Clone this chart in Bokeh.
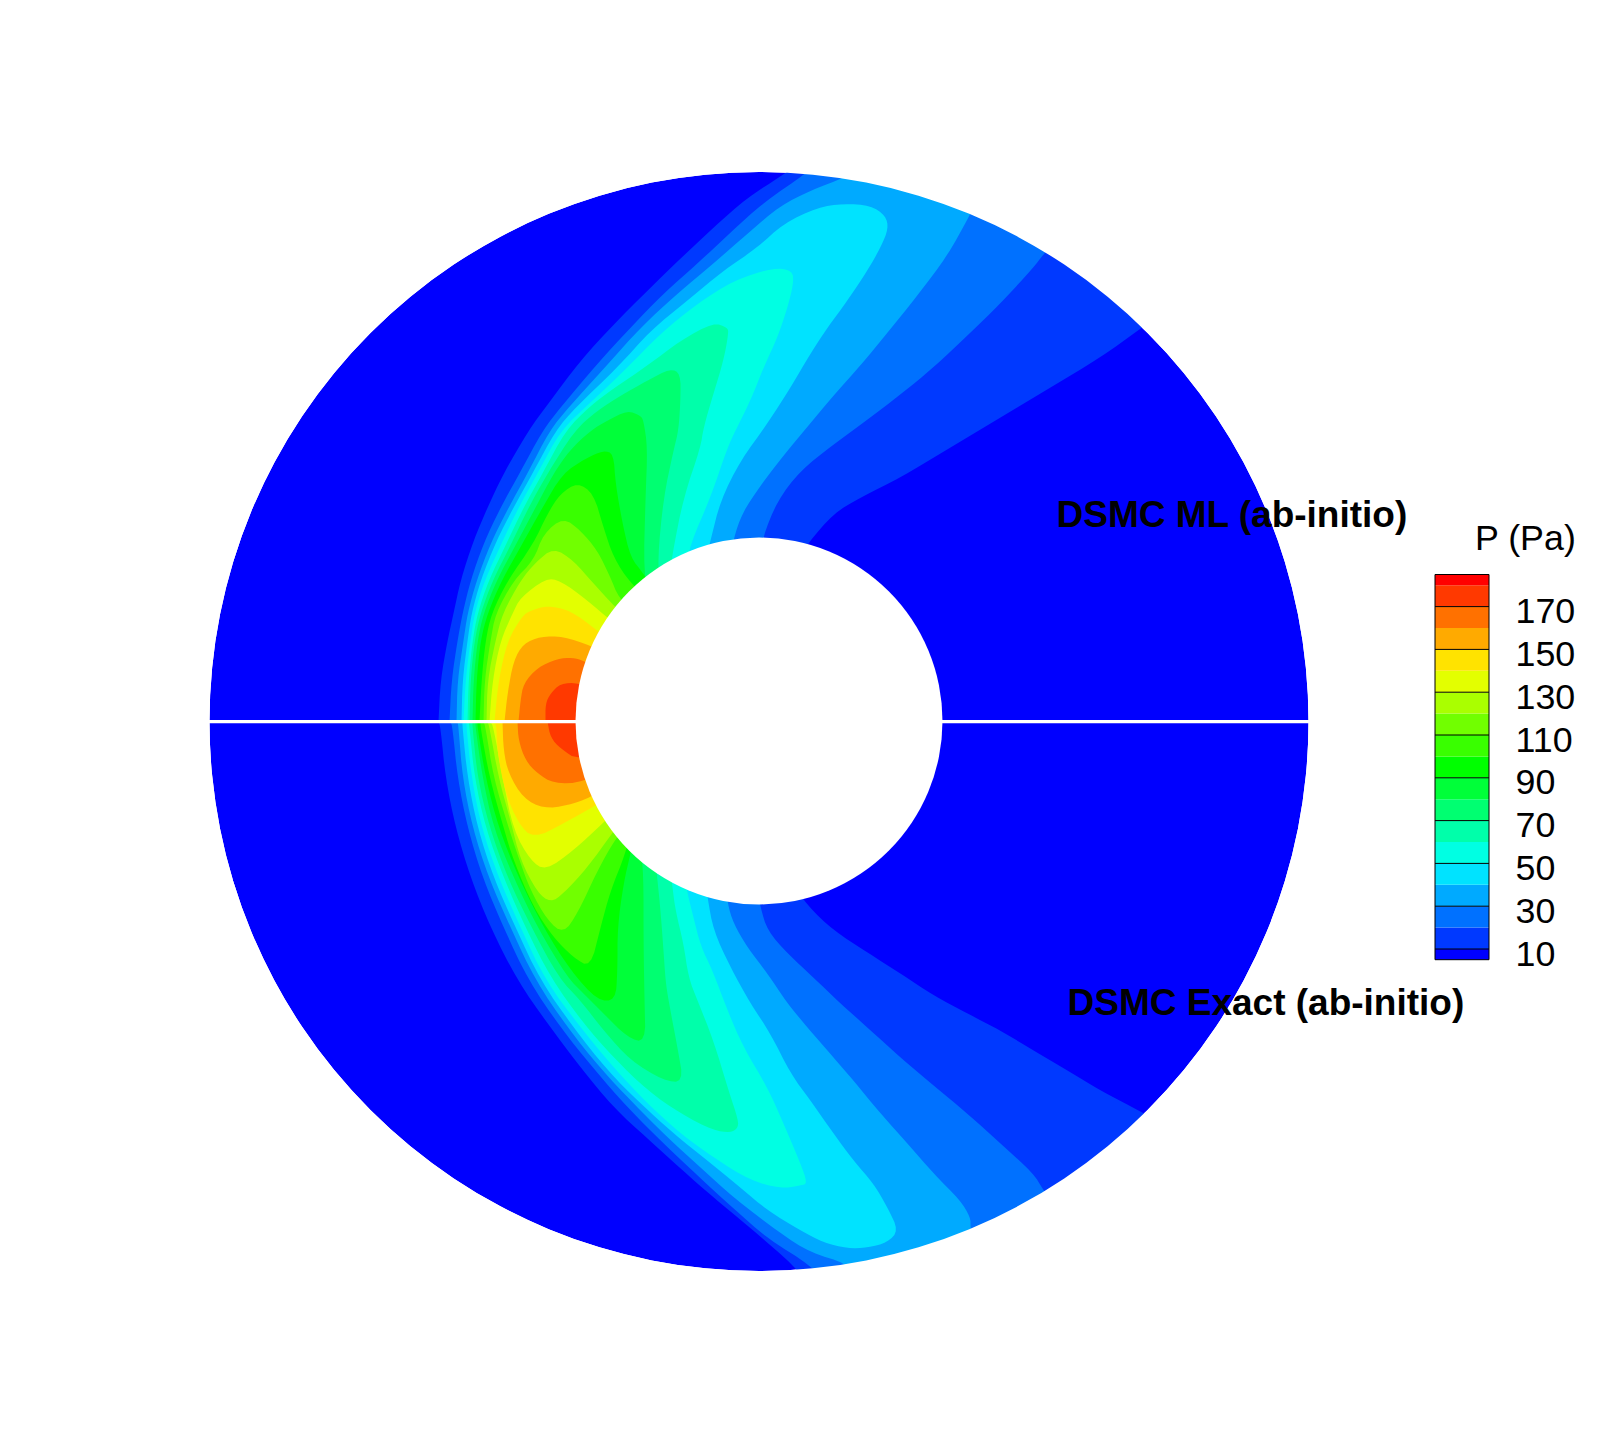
from bokeh.embed import file_html
from bokeh.models import Range1d
from bokeh.plotting import figure
from bokeh.resources import INLINE
from bokeh.core.properties import value
import numpy as np

# ---- colour scale ----
LEVELS = [10, 20, 30, 40, 50, 60, 70, 80, 90, 100, 110, 120, 130, 140, 150, 160, 170, 180]
BAND_COLORS = ["#0000FF", "#0039FF", "#0071FF", "#00AAFF", "#00E3FF", "#00FFE3", "#00FFAA", "#00FF71",
               "#00FF39", "#00FF00", "#39FF00", "#71FF00", "#AAFF00", "#E3FF00", "#FFE300", "#FFAA00",
               "#FF7100", "#FF3900", "#FF0000"]
TICKS = [10, 30, 50, 70, 90, 110, 130, 150, 170]
P_MIN, P_MAX = 5, 185

# ---- geometry of the annulus ----
CENTER_X, CENTER_Y = 758.5, 721
R_OUT, R_IN = 549.5, 183.5

# ---- iso-pressure contours: upper half (DSMC ML) ----
UP_10 = [(438,721),(440,680),(447,640),(453,613),(460,580),(473,540),(487,507),(503,473),(528,430),(547,404),(580,360),(613,324),(647,290),(680,258),(713,227),(747,197),(780,176),(795,165),(1000,130),(1180,299),(1140,328),(1100,357),(1050,387),(1000,417),(950,447),(900,477),(860,497),(833,513),(808,542),(790,570)]
UP_20 = [(449,721),(451,680),(457,640),(462,613),(470,580),(483,543),(500,507),(519,473),(542,430),(560,407),(597,363),(630,327),(663,293),(697,263),(730,232),(763,202),(807,172),(815,160),(1000,150),(1060,235),(1042,255),(1033,267),(1000,303),(967,335),(933,367),(900,394),(867,419),(833,444),(800,470),(777,500),(762,537),(760,560)]
UP_30 = [(456,721),(457,680),(463,640),(467,613),(476,580),(490,543),(508,507),(527,473),(549,430),(568,407),(608,363),(640,327),(677,293),(713,263),(747,233),(780,205),(810,190),(847,176),(855,165),(970,170),(982,190),(968,217),(947,255),(917,295),(887,332),(860,365),(833,395),(808,425),(783,455),(760,485),(742,512),(733,538),(730,560)]
UP_40 = [(461,721),(462,680),(467,640),(471,613),(480,580),(496,540),(513,507),(532,473),(555,430),(575,407),(617,367),(650,330),(687,300),(723,270),(757,247),(783,223),(817,207),(843,203),(870,205),(885,215),(888,228),(880,247),(867,270),(847,300),(827,327),(810,353),(790,387),(767,423),(740,460),(720,500),(710,540),(705,560)]
UP_50 = [(463,721),(465,680),(470,640),(474,613),(484,580),(501,543),(518,507),(537,473),(560,430),(590,402),(627,367),(660,333),(697,303),(733,280),(773,267),(792,270),(793,283),(787,307),(777,337),(763,367),(750,400),(735,430),(727,447),(710,497),(690,543),(685,570)]
UP_60 = [(467,721),(468,680),(472,640),(477,613),(488,580),(506,543),(523,507),(542,473),(565,430),(590,405),(613,388),(647,365),(680,340),(713,322),(727,327),(728,333),(723,360),(713,393),(703,427),(700,447),(683,497),(672,553),(670,570)]
UP_70 = [(469,721),(470,680),(474,640),(480,613),(492,580),(511,543),(528,507),(547,473),(574,430),(597,410),(620,395),(647,380),(670,368),(680,373),(680,400),(678,430),(673,450),(663,497),(657,560),(660,590)]
UP_80 = [(472,721),(473,680),(477,640),(483,613),(496,580),(516,543),(535,507),(553,473),(569,450),(590,430),(607,420),(627,410),(640,415),(643,420),(647,447),(645,497),(643,573),(650,600)]
UP_90 = [(475,721),(476,680),(480,640),(487,613),(501,580),(522,543),(542,507),(562,473),(585,458),(603,450),(613,453),(615,483),(622,523),(630,557),(643,573),(660,600)]
UP_100 = [(479,721),(481,680),(485,640),(491,613),(507,580),(533,543),(547,513),(560,493),(577,482),(593,493),(603,527),(613,557),(630,583),(660,610)]
UP_110 = [(483,721),(484,680),(490,640),(495,613),(513,580),(533,560),(543,533),(563,517),(580,530),(597,550),(610,577),(618,597),(640,620)]
UP_120 = [(486,721),(487,680),(495,640),(502,613),(520,580),(535,562),(553,547),(573,560),(593,583),(615,607),(640,630)]
UP_130 = [(489,721),(492,680),(500,640),(512,613),(520,597),(545,578),(560,580),(587,600),(610,620),(640,640)]
UP_140 = [(494,721),(498,680),(507,640),(522,615),(530,610),(547,605),(570,610),(597,630),(620,650)]
UP_150 = [(504,721),(507,693),(513,660),(523,643),(540,636),(563,636),(590,645),(620,660)]
UP_160 = [(518,721),(520,700),(523,683),(537,667),(557,658),(572,657),(583,660),(620,680)]
UP_170 = [(545,721),(545,703),(550,693),(560,683),(578,682),(620,700)]

# ---- iso-pressure contours: lower half (DSMC Exact) ----
DN_10 = [(438,721),(440,727),(445,777),(455,827),(470,877),(490,927),(517,980),(547,1023),(580,1067),(613,1107),(647,1138),(680,1168),(713,1197),(747,1225),(797,1268),(805,1285),(1000,1300),(1180,1132),(1142,1112),(1100,1090),(1067,1070),(1033,1050),(1000,1030),(967,1013),(933,995),(900,973),(867,952),(833,930),(807,905),(790,880)]
DN_20 = [(450,721),(452,727),(457,777),(467,827),(482,877),(503,927),(528,980),(560,1027),(593,1068),(627,1107),(663,1143),(697,1175),(733,1208),(767,1238),(812,1266),(825,1285),(1000,1290),(1060,1215),(1042,1188),(1033,1173),(1000,1143),(967,1113),(933,1085),(900,1057),(867,1027),(840,1003),(813,977),(787,953),(767,930),(760,907),(755,880)]
DN_30 = [(457,721),(458,727),(462,777),(472,827),(488,877),(510,927),(535,980),(567,1027),(600,1068),(633,1103),(667,1137),(700,1167),(733,1197),(780,1233),(810,1252),(847,1263),(855,1280),(972,1245),(970,1227),(970,1217),(960,1200),(933,1173),(907,1143),(880,1113),(853,1080),(833,1057),(807,1027),(787,1003),(767,973),(747,947),(733,923),(727,903),(725,880)]
DN_40 = [(462,721),(462,727),(467,777),(477,827),(493,877),(515,927),(540,980),(573,1027),(607,1070),(640,1103),(673,1133),(707,1160),(740,1187),(767,1210),(800,1230),(823,1242),(847,1248),(867,1247),(887,1242),(898,1230),(887,1207),(873,1183),(853,1160),(833,1133),(810,1100),(790,1073),(770,1033),(750,1003),(730,967),(713,930),(707,897),(705,880)]
DN_50 = [(466,721),(466,727),(471,777),(481,827),(498,877),(520,927),(545,980),(580,1027),(613,1067),(647,1103),(680,1133),(713,1157),(750,1180),(780,1188),(800,1185),(807,1183),(800,1163),(783,1123),(767,1087),(743,1047),(727,1010),(712,970),(700,945),(693,917),(687,893),(685,880)]
DN_60 = [(468,721),(469,727),(474,777),(485,827),(503,877),(525,927),(550,977),(583,1023),(613,1057),(647,1090),(680,1113),(713,1130),(730,1132),(737,1128),(738,1120),(728,1090),(713,1040),(697,1000),(688,977),(683,943),(675,910),(672,887),(670,870)]
DN_70 = [(472,721),(472,727),(477,777),(489,827),(507,877),(531,927),(558,977),(580,1000),(603,1030),(630,1060),(663,1080),(683,1082),(677,1047),(668,1000),(665,980),(663,950),(660,910),(657,880),(655,860)]
DN_80 = [(475,721),(475,727),(482,777),(493,827),(513,877),(537,927),(567,977),(583,993),(603,1013),(627,1037),(645,1042),(644,1000),(643,943),(643,873),(640,850)]
DN_90 = [(477,721),(477,727),(485,777),(498,827),(518,877),(543,927),(570,970),(597,1000),(615,1000),(617,970),(617,927),(623,883),(630,853),(635,830)]
DN_100 = [(480,721),(480,727),(489,777),(503,827),(513,860),(533,907),(553,937),(573,957),(590,967),(600,927),(610,890),(625,853),(630,830)]
DN_110 = [(483,721),(485,727),(493,777),(508,827),(518,857),(530,890),(547,920),(563,933),(577,913),(597,870),(615,838),(630,820)]
DN_120 = [(487,721),(489,727),(498,777),(510,820),(520,860),(537,892),(550,902),(563,893),(587,867),(612,832),(630,810)]
DN_130 = [(490,721),(493,727),(502,777),(513,830),(530,860),(545,870),(573,850),(603,822),(625,800)]
DN_140 = [(494,721),(496,727),(497,753),(505,793),(518,823),(533,838),(563,823),(595,805),(625,785)]
DN_150 = [(502,721),(503,750),(508,773),(523,798),(543,808),(567,805),(590,797),(625,775)]
DN_160 = [(517,721),(518,740),(525,760),(537,773),(553,783),(583,782),(625,760)]
DN_170 = [(547,721),(550,737),(560,748),(578,760),(625,745)]

UPPER = [UP_10, UP_20, UP_30, UP_40, UP_50, UP_60, UP_70, UP_80, UP_90, UP_100, UP_110, UP_120, UP_130, UP_140, UP_150, UP_160, UP_170]
LOWER = [DN_10, DN_20, DN_30, DN_40, DN_50, DN_60, DN_70, DN_80, DN_90, DN_100, DN_110, DN_120, DN_130, DN_140, DN_150, DN_160, DN_170]


def rounded(points, passes=2):
    """Round a traced polyline's corners (end points stay put)."""
    pts = np.asarray(points, dtype=float)
    for _ in range(passes):
        q = 0.75 * pts[:-1] + 0.25 * pts[1:]
        r = 0.25 * pts[:-1] + 0.75 * pts[1:]
        mid = np.empty((2 * len(q), 2))
        mid[0::2], mid[1::2] = q, r
        pts = np.vstack([pts[:1], mid, pts[-1:]])
    pts = np.vstack([pts, [[CENTER_X, CENTER_Y]]])
    return pts[:, 0].tolist(), pts[:, 1].tolist()


p = figure(width=1608, height=1429, x_range=Range1d(0, 1608), y_range=Range1d(1429, 0),
           output_backend="svg", toolbar_location=None, x_axis_type=None, y_axis_type=None,
           min_border=0, outline_line_color=None, background_fill_color="white")
p.grid.visible = False

# far field
p.circle(x=[CENTER_X], y=[CENTER_Y], radius=R_OUT, fill_color=BAND_COLORS[0], line_color=None)

# filled bands, painted from the lowest level upward
for contours in (UPPER, LOWER):
    for i, trace in enumerate(contours):
        xs, ys = rounded(trace)
        p.patch(xs, ys, fill_color=BAND_COLORS[i + 1], line_color=None)

# what lies outside the annulus, and the cut between the two halves
p.annulus(x=[CENTER_X], y=[CENTER_Y], inner_radius=R_OUT, outer_radius=R_OUT + 130,
          fill_color="white", line_color=None)
p.circle(x=[CENTER_X], y=[CENTER_Y - 0.5], radius=R_IN, fill_color="white", line_color=None)
p.quad(left=[190], right=[1330], bottom=[722.7], top=[719.4], fill_color="white", line_color=None)

# labels
FONT = value("Liberation Sans")
p.text(x=[1056], y=[514], text=["DSMC ML (ab-initio)"], text_font=FONT, text_font_size="37px",
       text_font_style="bold", text_color="black", text_baseline="middle", text_align="left")
p.text(x=[1067], y=[1002], text=["DSMC Exact (ab-initio)"], text_font=FONT, text_font_size="37px",
       text_font_style="bold", text_color="black", text_baseline="middle", text_align="left")

# colour bar
BAR_L, BAR_R = 1434.5, 1488.5


def bar_y(P):
    return 948.5 - (np.asarray(P, dtype=float) - 10) * 2.14


edges = [P_MIN] + LEVELS + [P_MAX]
p.quad(left=BAR_L, right=BAR_R, bottom=bar_y(edges[:-1]), top=bar_y(edges[1:]),
       fill_color=BAND_COLORS, line_color=None)
p.segment(x0=BAR_L, x1=BAR_R, y0=bar_y(TICKS), y1=bar_y(TICKS), line_color="black", line_width=1)
p.quad(left=[BAR_L], right=[BAR_R], bottom=bar_y([P_MIN]), top=bar_y([P_MAX]),
       fill_color=None, line_color="black", line_width=1)
p.text(x=[1515] * len(TICKS), y=bar_y(TICKS) + 4.5, text=[str(t) for t in TICKS], text_font=FONT,
       text_font_size="35.8px", text_color="black", text_baseline="middle", text_align="left")
p.text(x=[1474.5], y=[537], text=["P (Pa)"], text_font=FONT, text_font_size="35.8px",
       text_color="black", text_baseline="middle", text_align="left")

open("out.html", "w").write(file_html(p, INLINE))
